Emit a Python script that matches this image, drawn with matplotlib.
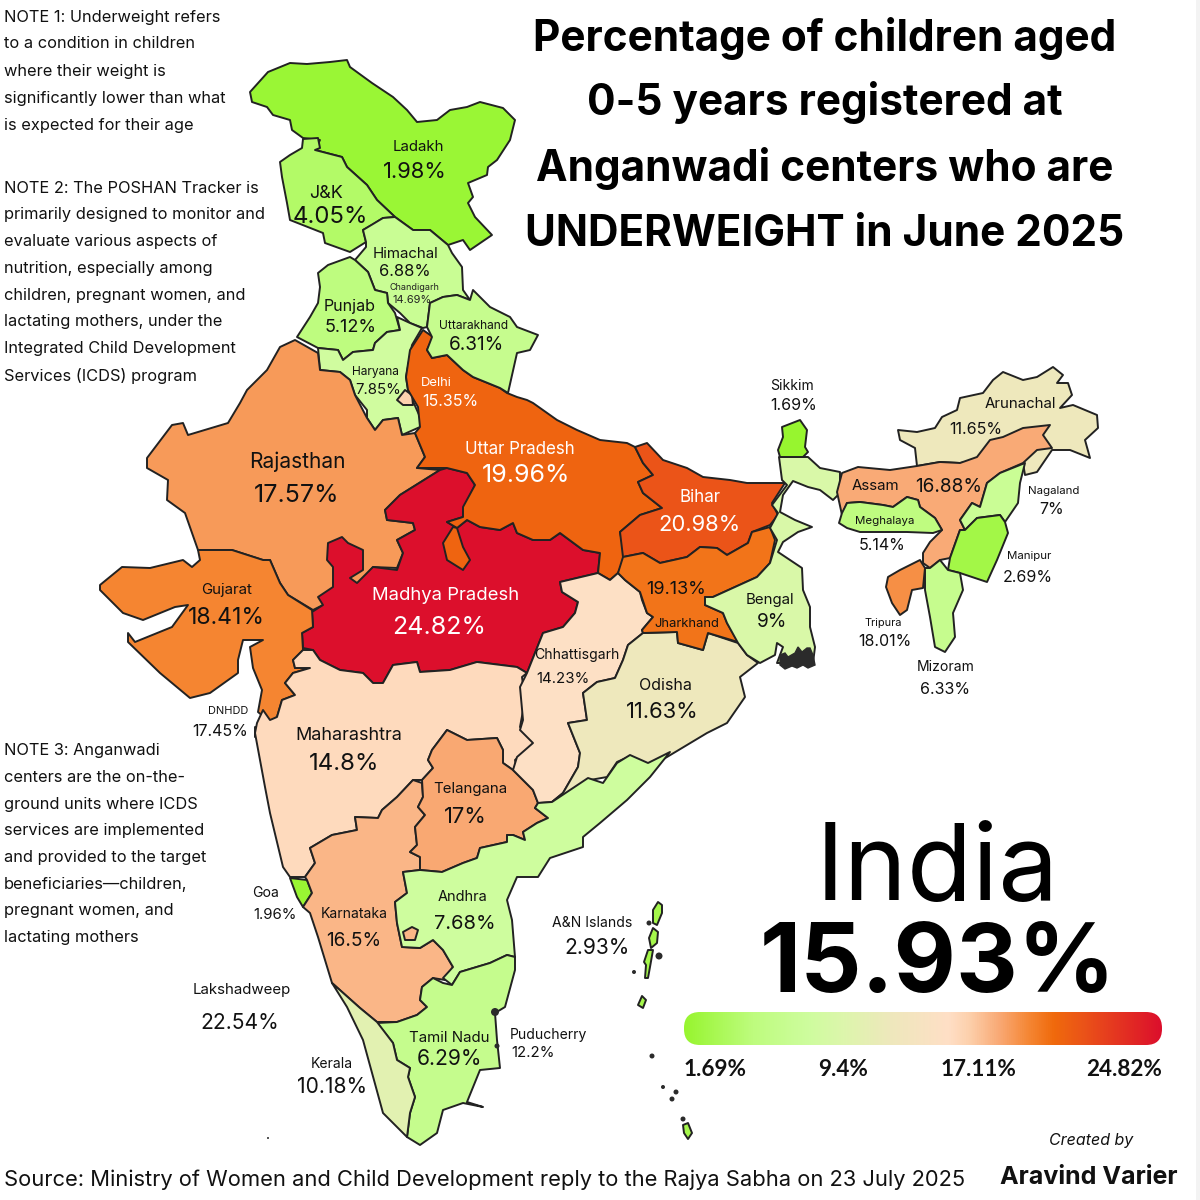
import numpy as np
import matplotlib
matplotlib.use("Agg")
import matplotlib.pyplot as plt
from matplotlib.colors import LinearSegmentedColormap
from matplotlib.patches import Polygon, FancyBboxPatch, Circle, Rectangle

plt.rcParams["font.family"] = ["Inter", "DejaVu Sans"]

# values
names = ["Ladakh", "J&K", "Himachal", "Chandigarh", "Punjab", "Uttarakhand", "Haryana", "Delhi",
         "Uttar Pradesh", "Rajasthan", "Gujarat", "Madhya Pradesh", "Bihar", "Jharkhand", "Bengal",
         "Sikkim", "Arunachal", "Assam", "Meghalaya", "Nagaland", "Manipur", "Tripura", "Mizoram",
         "Chhattisgarh", "Odisha", "Maharashtra", "Telangana", "Andhra", "Karnataka", "Goa", "DNHDD",
         "A&N Islands", "Lakshadweep", "Kerala", "Tamil Nadu", "Puducherry"]
values = [1.98, 4.05, 6.88, 14.69, 5.12, 6.31, 7.85, 15.35,
          19.96, 17.57, 18.41, 24.82, 20.98, 19.13, 9,
          1.69, 11.65, 16.88, 5.14, 7, 2.69, 18.01, 6.33,
          14.23, 11.63, 14.8, 17, 7.68, 16.5, 1.96, 17.45,
          2.93, 22.54, 10.18, 6.29, 12.2]
india_value = 15.93
scale_ticks = [1.69, 9.4, 17.11, 24.82]

# colour scale stops (value, colour)
stop_values = [1.69, 5.0, 7.68, 9.4, 11.65, 14.5, 15.5, 17.0, 18.41, 19.6, 21.0, 24.82]
stop_colors = ["#97f52f", "#befc7e", "#cefd9e", "#ddf6ac", "#eee8bc", "#ffdfc6", "#fdd0ac",
               "#f9a873", "#f58633", "#f06a0c", "#eb5418", "#dc0f2c"]

# hand traced outlines, image pixels
outlines = {
    "Ladakh": [(250,92),(268,72),(290,63),(307,64),(330,62),(347,60),(350,67),(372,83),(393,97),(407,110),(417,122),(437,120),(450,110),(467,107),(480,102),(503,108),(515,120),(510,140),(497,160),(488,167),(487,175),(468,183),(473,197),(468,203),(475,217),(492,235),(470,250),(463,240),(448,245),(430,230),(413,230),(395,217),(377,200),(367,185),(347,167),(342,157),(315,150),(320,140),(303,138),(292,130),(290,120),(273,115),(267,107),(252,102)],
    "J&K": [(280,162),(290,155),(302,148),(303,139),(318,138),(320,148),(315,150),(342,157),(347,167),(367,185),(377,200),(395,217),(383,218),(372,225),(363,230),(366,242),(350,252),(325,243),(323,233),(290,220),(287,203),(282,177)],
    "Himachal": [(363,230),(383,218),(395,217),(413,230),(430,230),(448,245),(452,253),(462,267),(463,290),(470,300),(457,295),(443,297),(430,303),(427,327),(423,328),(410,323),(400,313),(388,303),(387,293),(375,290),(368,272),(355,260),(366,247),(366,242)],
    "Punjab": [(350,257),(355,260),(368,272),(375,290),(387,293),(388,303),(395,313),(400,330),(387,332),(375,343),(373,350),(353,352),(343,360),(338,350),(318,348),(297,337),(310,317),(318,303),(320,287),(318,273),(328,265)],
    "Haryana": [(318,348),(338,350),(343,360),(353,352),(373,350),(375,343),(387,332),(400,330),(397,317),(410,323),(422,328),(412,345),(406,377),(408,390),(420,417),(420,427),(402,435),(398,418),(383,420),(375,430),(367,418),(367,410),(355,395),(350,380),(340,372),(320,370)],
    "Delhi": [(397,400),(405,390),(412,395),(413,405),(403,405)],
    "Rajasthan": [(295,340),(280,347),(267,370),(247,390),(240,403),(228,423),(188,435),(183,423),(172,425),(147,458),(147,468),(168,480),(167,500),(185,513),(198,550),(232,550),(263,560),(270,560),(280,583),(288,595),(313,610),(323,605),(340,590),(360,583),(373,567),(397,568),(403,553),(397,540),(415,530),(413,523),(387,520),(385,510),(400,495),(440,470),(417,468),(425,457),(415,433),(402,435),(398,418),(383,420),(375,430),(367,418),(355,395),(350,380),(340,372),(320,370),(318,353)],
    "Madhya Pradesh": [(447,468),(467,473),(475,485),(463,510),(463,517),(447,522),(457,528),(467,520),(480,527),(500,530),(513,523),(517,533),(533,540),(550,540),(560,533),(583,550),(600,553),(598,573),(560,582),(562,592),(578,602),(575,613),(563,627),(543,633),(535,653),(527,673),(517,667),(477,662),(450,670),(420,672),(417,662),(393,665),(383,683),(373,683),(363,673),(340,670),(320,660),(313,650),(303,648),(302,633),(313,627),(312,612),(323,605),(318,597),(333,587),(333,567),(327,560),(328,543),(342,537),(348,543),(363,550),(363,570),(350,578),(357,583),(373,567),(397,570),(403,553),(397,540),(415,530),(413,523),(387,520),(385,510),(400,495),(440,470)],
    "Uttar Pradesh": [(423,330),(433,337),(427,350),(432,358),(447,355),(463,370),(473,377),(500,388),(507,393),(517,397),(527,400),(533,403),(557,420),(577,430),(600,440),(627,443),(635,447),(643,463),(653,475),(638,482),(643,493),(662,508),(640,515),(620,532),(625,557),(618,573),(610,580),(598,573),(600,553),(583,550),(560,533),(550,540),(533,540),(517,533),(513,523),(500,530),(480,527),(467,520),(457,528),(447,522),(463,517),(463,507),(475,485),(467,473),(447,468),(417,468),(425,457),(415,433),(420,427),(418,407),(408,390),(406,377),(410,350)],
    "Uttar Pradesh 2": [(453,527),(443,543),(447,560),(463,570),(470,560),(463,547),(457,528)],
    "Uttarakhand": [(430,303),(443,297),(457,295),(470,300),(473,290),(490,307),(510,317),(517,327),(538,335),(530,350),(517,353),(508,393),(500,388),(473,377),(463,370),(447,355),(432,358),(427,350),(432,337),(427,327)],
    "Gujarat": [(100,585),(122,567),(150,568),(183,560),(192,567),(200,560),(198,550),(232,550),(263,560),(270,560),(280,583),(288,595),(312,610),(313,627),(302,633),(303,650),(293,660),(295,668),(310,668),(293,673),(285,683),(295,695),(282,700),(277,717),(270,722),(258,712),(262,690),(253,668),(250,647),(263,640),(243,640),(238,660),(238,673),(210,693),(190,698),(160,673),(128,642),(128,633),(135,642),(172,627),(188,605),(175,607),(143,620),(123,613),(100,590)],
    "DNHDD": [(255,727),(258,727),(258,737),(255,737)],
    "Maharashtra": [(293,660),(303,650),(313,650),(320,660),(340,670),(363,673),(373,683),(383,683),(393,665),(417,662),(420,672),(450,670),(477,662),(517,667),(527,673),(522,677),(525,700),(520,727),(535,743),(515,760),(517,770),(513,770),(503,763),(503,750),(497,738),(467,740),(447,730),(432,750),(428,760),(433,768),(422,780),(413,780),(397,797),(382,810),(378,818),(355,817),(357,830),(332,835),(310,848),(315,863),(305,877),(290,877),(283,867),(270,813),(265,787),(255,733),(257,723),(263,710),(270,720),(277,717),(282,700),(295,695),(285,683),(293,673),(310,668),(295,668)],
    "Goa": [(290,878),(307,880),(312,893),(303,907),(297,897)],
    "Karnataka": [(310,848),(332,835),(357,830),(355,817),(378,818),(382,810),(397,797),(413,780),(422,783),(423,797),(418,807),(425,815),(415,827),(417,845),(410,852),(420,857),(420,870),(403,872),(407,893),(395,902),(397,923),(402,947),(420,948),(433,940),(443,950),(453,967),(445,980),(433,978),(422,987),(420,1000),(427,1007),(417,1015),(397,1022),(377,1022),(360,1008),(332,983),(318,937),(310,913),(303,907),(312,893),(307,880),(305,877),(315,863)],
    "Telangana": [(447,730),(467,740),(497,738),(503,750),(503,763),(513,770),(533,790),(538,803),(535,808),(548,818),(537,823),(523,832),(525,840),(513,835),(507,835),(507,842),(480,848),(477,858),(463,863),(442,872),(420,870),(420,857),(410,852),(417,845),(415,827),(425,815),(418,807),(423,797),(422,780),(433,768),(428,760),(432,750)],
    "Chhattisgarh": [(618,573),(625,580),(640,592),(642,600),(647,613),(653,617),(642,630),(643,633),(628,645),(623,660),(615,678),(597,682),(583,693),(587,720),(568,723),(580,753),(578,767),(563,793),(552,802),(538,803),(533,790),(513,770),(517,757),(533,743),(520,730),(523,720),(520,687),(527,673),(535,653),(543,633),(563,627),(575,613),(578,602),(562,592),(560,582),(598,573),(610,580)],
    "Odisha": [(643,633),(677,632),(678,643),(703,650),(708,633),(738,643),(747,655),(758,663),(740,677),(745,697),(727,723),(707,733),(667,757),(647,768),(628,757),(617,762),(607,777),(590,780),(563,797),(552,802),(563,793),(578,767),(580,753),(568,723),(587,720),(583,693),(597,682),(615,678),(623,660),(628,645)],
    "Andhra": [(552,802),(588,778),(603,783),(617,763),(630,755),(648,763),(670,752),(650,777),(627,800),(600,823),(583,837),(583,847),(550,858),(538,877),(517,877),(507,900),(512,920),(515,957),(507,955),(490,963),(460,972),(452,985),(443,978),(453,967),(443,950),(433,940),(420,948),(402,947),(397,923),(395,902),(407,893),(403,872),(420,870),(442,872),(463,863),(477,858),(480,848),(507,842),(507,835),(513,835),(525,840),(523,832),(537,823),(548,818),(535,808),(538,803)],
    "Karnataka 2": [(403,932),(412,927),(418,930),(415,940),(405,940)],
    "Tamil Nadu": [(515,957),(515,970),(505,1007),(495,1013),(497,1040),(500,1068),(480,1070),(467,1102),(483,1107),(463,1103),(443,1110),(437,1133),(420,1145),(407,1137),(410,1113),(415,1097),(408,1077),(410,1068),(397,1060),(393,1043),(377,1023),(397,1022),(417,1015),(427,1007),(420,1000),(422,987),(433,978),(443,983),(452,985),(460,972),(490,963),(507,955)],
    "Kerala": [(332,983),(360,1008),(377,1022),(393,1043),(397,1060),(410,1068),(408,1077),(415,1097),(410,1113),(407,1137),(383,1113),(363,1040),(347,1007)],
    "Bihar": [(635,447),(647,443),(663,460),(687,468),(703,477),(730,480),(747,483),(785,483),(772,503),(778,515),(770,525),(752,532),(748,543),(727,555),(717,548),(700,547),(687,557),(660,563),(643,553),(623,557),(620,532),(640,515),(662,508),(643,493),(638,482),(653,475),(643,463)],
    "Jharkhand": [(623,557),(643,553),(660,563),(687,557),(700,547),(717,548),(727,555),(748,543),(752,532),(770,527),(775,540),(770,563),(757,577),(713,597),(705,597),(705,605),(723,613),(727,623),(738,642),(708,633),(703,650),(678,643),(677,632),(643,633),(642,630),(653,617),(647,613),(640,592),(625,580),(618,573)],
    "Bengal": [(779,457),(808,457),(820,468),(840,472),(840,493),(833,500),(820,490),(808,487),(793,481),(783,495),(780,512),(795,520),(812,527),(798,532),(783,542),(778,552),(802,568),(803,590),(810,607),(810,627),(815,647),(813,663),(777,663),(783,647),(777,643),(775,655),(760,663),(747,655),(738,643),(727,623),(723,613),(705,605),(705,597),(713,597),(757,577),(770,563),(777,540),(770,528),(778,513),(772,505),(787,485),(782,480)],
    "Sikkim": [(782,427),(800,420),(807,430),(805,447),(808,452),(803,457),(780,457),(778,450),(783,437)],
    "Arunachal": [(898,430),(917,432),(935,428),(942,417),(957,410),(960,398),(983,393),(993,380),(1003,372),(1023,380),(1037,377),(1053,367),(1063,375),(1057,383),(1068,383),(1072,395),(1060,408),(1073,405),(1097,415),(1098,428),(1085,440),(1090,458),(1070,450),(1052,450),(1037,472),(1025,475),(1023,463),(1000,470),(977,460),(960,463),(940,462),(917,466),(915,448),(900,440)],
    "Assam": [(842,473),(858,467),(890,470),(917,466),(940,462),(960,463),(977,457),(990,440),(1003,437),(1023,428),(1050,425),(1043,435),(1052,448),(1037,450),(1023,463),(1000,473),(987,483),(980,507),(972,503),(960,520),(965,530),(960,530),(950,558),(940,560),(930,568),(923,563),(923,553),(930,542),(942,530),(935,518),(920,507),(918,500),(907,497),(893,507),(883,505),(860,502),(847,503),(842,515),(837,492)],
    "Meghalaya": [(839,523),(842,513),(847,503),(860,502),(883,505),(893,507),(907,497),(918,500),(920,507),(935,518),(942,530),(933,533),(907,532),(860,532),(847,528)],
    "Nagaland": [(1025,463),(1020,483),(1018,503),(1005,522),(1000,515),(977,518),(965,530),(960,520),(972,503),(980,507),(987,483),(1000,473)],
    "Manipur": [(977,518),(1000,515),(1005,522),(1008,533),(997,560),(987,582),(960,573),(948,570),(950,558),(960,530),(965,530)],
    "Mizoram": [(925,568),(930,568),(940,560),(948,570),(960,573),(963,590),(953,613),(955,637),(945,652),(935,647),(930,617),(925,590)],
    "Tripura": [(888,577),(900,570),(920,560),(925,568),(923,588),(912,590),(907,610),(900,615),(892,603),(886,587)],
    "A&N Islands": [(658,902),(662,905),(662,913),(657,925),(653,923),(653,910)],
    "A&N Islands 2": [(653,928),(658,932),(657,943),(651,948),(649,938)],
    "A&N Islands 3": [(648,950),(653,950),(650,967),(648,978),(645,978),(646,965),(644,962)],
    "A&N Islands 4": [(642,996),(646,1000),(643,1008),(638,1005)],
    "A&N Islands 5": [(683,1125),(688,1123),(692,1133),(688,1139),(684,1133)],
}
# mangroves, only outline at this size
sundarbans = [(780,655),(785,653),(788,657),(795,653),(798,647),(802,652),(807,648),(810,648),(813,655),(815,665),(808,668),(803,665),(797,668),(792,666),(785,669),(780,665)]
# small islands and enclaves: x, y, radius
specks = [(495,1012,4), (497,1046,2.5), (659,956,3.5), (649,923,2.5), (634,972,2),
          (652,1056,2.5), (663,1087,2), (676,1092,2.5), (672,1099,2.5), (683,1119,2.5), (268,1138,1)]

# (name x, name y, name px, value x, value y, value px, colour)
label_spots = {
    "Ladakh": (418,145,15,415,170,22,"#111"), "J&K": (326,192,18,330,215,24,"#111"),
    "Himachal": (406,252,15,405,270,16.5,"#111"), "Chandigarh": (414,285,9,412,298,11,"#222"),
    "Punjab": (350,304,16,351,326,18,"#111"), "Uttarakhand": (474,324,12,477,343,19,"#111"),
    "Haryana": (375,370,12,378,388,15,"#111"), "Delhi": (436,381,13,450,400,16,"white"),
    "Uttar Pradesh": (520,447,17,526,473,25,"white"), "Rajasthan": (297,460,21,297,494,25,"#111"),
    "Gujarat": (227,588,15,226,616,23,"#111"), "Madhya Pradesh": (446,594,18.5,439,625,25,"white"),
    "Bihar": (700,496,17,700,523,22,"white"), "Jharkhand": (687,622,13,676,587,18,"#111"),
    "Bengal": (770,598,15,772,620,19,"#111"), "Sikkim": (792,384,14,794,404,16,"#111"),
    "Arunachal": (1020,402,15,976,427,16,"#111"), "Assam": (875,484,15,949,485,19,"#111"),
    "Meghalaya": (885,519,11.5,882,544,16,"#111"), "Nagaland": (1054,489,11.5,1052,508,16,"#111"),
    "Manipur": (1029,554,11.5,1028,576,16,"#111"), "Tripura": (883,621,11,885,639,16,"#111"),
    "Mizoram": (946,665,14,945,687,16,"#111"), "Chhattisgarh": (577,653,14,563,677,15,"#111"),
    "Odisha": (665,684,16,662,710,22,"#111"), "Maharashtra": (349,733,18,344,762,24,"#111"),
    "Telangana": (470,787,15,465,815,22,"#111"), "Andhra": (463,895,14.5,465,922,20,"#111"),
    "Karnataka": (354,912,14,354,939,19,"#111"), "Goa": (266,891,14,275,913,15,"#111"),
    "DNHDD": (228,709,11,220,730,16,"#111"), "A&N Islands": (592,921,14,597,946,21,"#111"),
    "Lakshadweep": (242,988,15,240,1021,21,"#111"), "Kerala": (332,1062,14,332,1085,21,"#111"),
    "Tamil Nadu": (449,1036,15,449,1057,21,"#111"), "Puducherry": (548,1033,14,533,1051,15,"#111"),
}

title_lines = ["Percentage of children aged", "0-5 years registered at",
               "Anganwadi centers who are", "UNDERWEIGHT in June 2025"]
title_ys = [35, 100, 165, 231]
note_lines = ["NOTE 1: Underweight refers", "to a condition in children", "where their weight is",
              "significantly lower than what", "is expected for their age",
              "NOTE 2: The POSHAN Tracker is", "primarily designed to monitor and",
              "evaluate various aspects of", "nutrition, especially among",
              "children, pregnant women, and", "lactating mothers, under the",
              "Integrated Child Development", "Services (ICDS) program",
              "NOTE 3: Anganwadi", "centers are the on-the-", "ground units where ICDS",
              "services are implemented", "and provided to the target",
              "beneficiaries\u2014children,", "pregnant women, and", "lactating mothers"]
note_ys = [16, 42, 70, 97, 124, 187, 213, 240, 267, 294, 320, 347, 374,
           749, 776, 803, 829, 856, 883, 909, 936]
source_text = "Source: Ministry of Women and Child Development reply to the Rajya Sabha on 23 July 2025"


def px(size):
    # font size given in image pixels
    return size * 0.72


cmap = LinearSegmentedColormap.from_list(
    "scale", [((v - stop_values[0]) / (stop_values[-1] - stop_values[0]), c)
              for v, c in zip(stop_values, stop_colors)])
value_of = dict(zip(names, values))
vmin, vmax = min(values), max(values)

fig = plt.figure(figsize=(12, 12), dpi=100)
ax = fig.add_axes([0, 0, 1, 1])

for key, pts in outlines.items():
    v = value_of[key.rsplit(" ", 1)[0] if key[-1].isdigit() else key]
    ax.add_patch(Polygon(pts, closed=True, facecolor=cmap((v - vmin) / (vmax - vmin)),
                         edgecolor="#222222", linewidth=1.4, joinstyle="round"))
ax.add_patch(Polygon(sundarbans, closed=True, facecolor="#2b2b2b", edgecolor="#2b2b2b", linewidth=1))
for x, y, r in specks:
    ax.add_patch(Circle((x, y), r, facecolor="#2b2b2b", edgecolor="none"))

for name, val in zip(names, values):
    nx, ny, ns, vx, vy, vs, col = label_spots[name]
    ax.text(nx, ny + 2, name, fontsize=px(ns), color=col, ha="center", va="center")
    ax.text(vx, vy + 2, f"{val:g}%", fontsize=px(vs), color=col, ha="center", va="center")

for line, y in zip(title_lines, title_ys):
    ax.text(825, y + 3, line, fontsize=px(42.3), fontweight="bold", color="black", ha="center", va="center")
for line, y in zip(note_lines, note_ys):
    ax.text(4, y + 1.5, line, fontsize=px(16.4), color="#111", ha="left", va="center")

ax.text(937, 872, "India", fontsize=px(107), color="black", ha="center", va="center")
ax.text(938, 967, f"{india_value}%", fontsize=px(96), fontweight="bold", color="black", ha="center", va="center")

# colour bar with round ends
grad = np.linspace(0, 1, 512).reshape(1, -1)
im = ax.imshow(grad, cmap=cmap, extent=(684, 1162, 1045, 1012), aspect="auto", zorder=2)
clip = FancyBboxPatch((684, 1012), 478, 33, boxstyle="round,pad=0,rounding_size=16",
                      transform=ax.transData, facecolor="none", edgecolor="none")
ax.add_patch(clip)
im.set_clip_path(clip)

for tick, x in zip(scale_ticks, [715, 843, 978, 1124]):
    ax.text(x, 1069, f"{tick:g}%", fontsize=px(22.5), fontweight="bold", family=["Lato", "DejaVu Sans"],
            color="#111", ha="center", va="center")

ax.text(4, 1180, source_text, fontsize=px(21.9), color="#111", ha="left", va="center")
ax.text(1091, 1141, "Created by", fontsize=px(16), style="italic", color="#111", ha="center", va="center")
ax.text(1089, 1178, "Aravind Varier", fontsize=px(25), fontweight="bold", color="#111", ha="center", va="center")

# the pale strip at the right edge
ax.add_patch(Rectangle((1196, 0), 4, 1200, facecolor="#f3f3f3", edgecolor="none"))

ax.set_xlim(0, 1200)
ax.set_ylim(1200, 0)
ax.axis("off")
fig.savefig("out.png", dpi=100, facecolor="white")
